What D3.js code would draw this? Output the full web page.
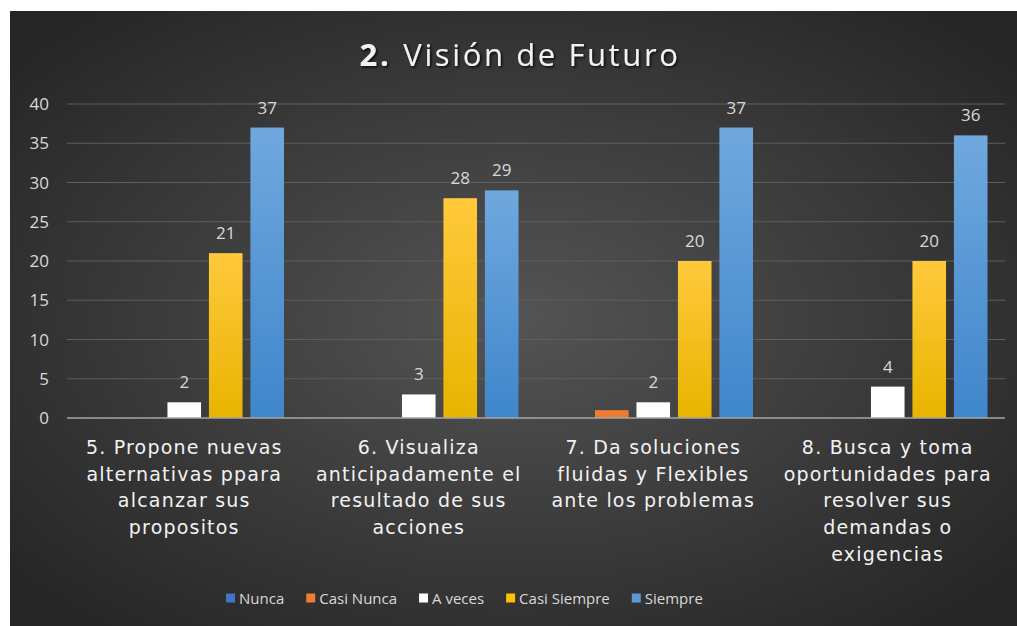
<!DOCTYPE html>
<html>
<head>
<meta charset="utf-8">
<script src="https://cdn.jsdelivr.net/npm/d3@7"></script>
<style>
  body { margin: 0; background: #ffffff; }
  svg { display: block; }
</style>
</head>
<body>
<svg></svg>
<script>
let width = 1017,
    height = 626,
    svg = d3.select("svg")
        .attr("width", width)
        .attr("height", height)

// data
let categories = [
    ["5. Propone nuevas", "alternativas ppara", "alcanzar sus", "propositos"],
    ["6. Visualiza", "anticipadamente el", "resultado de sus", "acciones"],
    ["7. Da soluciones", "fluidas y Flexibles", "ante los problemas"],
    ["8. Busca y toma", "oportunidades para", "resolver sus", "demandas o", "exigencias"]
];
let series = ["Nunca", "Casi Nunca", "A veces", "Casi Siempre", "Siempre"];
let nunca       = [0, 0, 0, 0];
let casiNunca   = [0, 0, 1, 0];
let aVeces      = [2, 3, 2, 4];
let casiSiempre = [21, 28, 20, 20];
let siempre     = [37, 29, 37, 36];
let yTicks = [0, 5, 10, 15, 20, 25, 30, 35, 40];
let labeledSeries = ["A veces", "Casi Siempre", "Siempre"];

let values = [nunca, casiNunca, aVeces, casiSiempre, siempre];
let rows = [];
categories.forEach((c, i) => {
    series.forEach((s, j) => rows.push({cat: i, series: s, value: values[j][i]}));
});

let defs = svg.append("defs");

// background radial gradient
let bg = defs.append("radialGradient").attr("id", "bg")
    .attr("cx", "50%").attr("cy", "50%").attr("r", "65%");
bg.append("stop").attr("offset", "0%").attr("stop-color", "#545454");
bg.append("stop").attr("offset", "100%").attr("stop-color", "#262626");

function vgrad(id, top, bottom) {
    let g = defs.append("linearGradient").attr("id", id)
        .attr("x1", 0).attr("y1", 0).attr("x2", 0).attr("y2", 1);
    g.append("stop").attr("offset", "0%").attr("stop-color", top);
    g.append("stop").attr("offset", "100%").attr("stop-color", bottom);
}
vgrad("gYellow", "#ffc93c", "#e8b400");
vgrad("gBlue", "#70a8de", "#3f86cb");

let shadow = defs.append("filter").attr("id", "shadow")
    .attr("x", "-10%").attr("y", "-20%").attr("width", "130%").attr("height", "150%");
shadow.append("feDropShadow").attr("dx", 1.5).attr("dy", 1.5).attr("stdDeviation", 1.2)
    .attr("flood-color", "#000").attr("flood-opacity", 0.8);

let color = d3.scaleOrdinal()
    .domain(series)
    .range(["#4472c4", "#ed7d31", "#ffffff", "url(#gYellow)", "url(#gBlue)"]);
let legendColor = d3.scaleOrdinal()
    .domain(series)
    .range(["#4472c4", "#ed7d31", "#ffffff", "#ffc000", "#5b9bd5"]);

svg.append("rect")
    .attr("x", 10).attr("y", 11)
    .attr("width", width - 10).attr("height", height - 11)
    .attr("fill", "url(#bg)");

// title
let title = svg.append("text")
    .attr("x", 520).attr("y", 66)
    .attr("text-anchor", "middle")
    .attr("fill", "#f2f2f2")
    .attr("font-family", "'Open Sans', sans-serif")
    .attr("font-size", 31)
    .attr("letter-spacing", 2.6)
    .attr("filter", "url(#shadow)");
title.append("tspan").attr("font-weight", "bold").text("2.");
title.append("tspan").attr("dx", 12).text("Visión de Futuro");

let margin = {left: 67, right: 1005, top: 104, bottom: 418};

let x0 = d3.scaleBand()
    .domain(d3.range(categories.length))
    .range([margin.left, margin.right]);

let x1 = d3.scaleBand()
    .domain(series)
    .range([17.5, x0.bandwidth() - 17.5])
    .paddingInner(0.19);

let y = d3.scaleLinear()
    .domain([0, 40])
    .range([margin.bottom, margin.top]);

// grid
svg.append("g")
    .selectAll("line")
    .data(yTicks.filter(t => t > 0))
    .enter().append("line")
    .attr("x1", margin.left).attr("x2", margin.right)
    .attr("y1", d => y(d)).attr("y2", d => y(d))
    .attr("stroke", "#5e5e5e")
    .attr("stroke-width", 1);

// y tick labels
svg.append("g")
    .selectAll("text")
    .data(yTicks)
    .enter().append("text")
    .attr("x", 49)
    .attr("y", d => y(d) + 6)
    .attr("text-anchor", "end")
    .attr("fill", "#d9d9d9")
    .attr("font-family", "'Open Sans', sans-serif")
    .attr("font-size", 17)
    .text(d => d);

// bars
let groups = svg.append("g")
    .selectAll("g")
    .data(d3.range(categories.length))
    .enter().append("g")
    .attr("transform", d => "translate(" + x0(d) + ",0)");

groups.selectAll("rect")
    .data(d => rows.filter(r => r.cat === d))
    .enter().append("rect")
    .attr("x", d => x1(d.series))
    .attr("width", x1.bandwidth())
    .attr("y", d => y(d.value))
    .attr("height", d => y(0) - y(d.value))
    .attr("fill", d => color(d.series));

groups.selectAll("text")
    .data(d => rows.filter(r => r.cat === d && r.value > 0 && labeledSeries.includes(r.series)))
    .enter().append("text")
    .attr("x", d => x1(d.series) + x1.bandwidth() / 2)
    .attr("y", d => y(d.value) - 14)
    .attr("text-anchor", "middle")
    .attr("fill", "#d9d9d9")
    .attr("font-family", "'Open Sans', sans-serif")
    .attr("font-size", 17)
    .text(d => d.value);

// x axis line
svg.append("line")
    .attr("x1", margin.left).attr("x2", margin.right)
    .attr("y1", y(0)).attr("y2", y(0))
    .attr("stroke", "#a6a6a6")
    .attr("stroke-width", 1.5);

// category labels
svg.append("g")
    .selectAll("text")
    .data(categories)
    .enter().append("text")
    .attr("text-anchor", "middle")
    .attr("fill", "#f2f2f2")
    .attr("font-family", "'DejaVu Sans', Verdana, sans-serif")
    .attr("font-size", 19)
    .attr("letter-spacing", 1.2)
    .each(function(lines, i) {
        d3.select(this).selectAll("tspan")
            .data(lines)
            .enter().append("tspan")
            .attr("x", x0(i) + x0.bandwidth() / 2)
            .attr("y", (d, k) => 454 + k * 26.7)
            .text(d => d);
    });

// legend
let legend = svg.append("g").attr("transform", "translate(0,598)");
let lx = 226;
series.forEach(s => {
    let item = legend.append("g");
    item.append("rect")
        .attr("x", lx).attr("y", -4.5)
        .attr("width", 9).attr("height", 9)
        .attr("fill", legendColor(s));
    let t = item.append("text")
        .attr("x", lx + 13).attr("y", 6)
        .attr("fill", "#d9d9d9")
        .attr("font-family", "'Open Sans', sans-serif")
        .attr("font-size", 15)
        .text(s);
    lx += 13 + t.node().getComputedTextLength() + 22;
});
</script>
</body>
</html>
